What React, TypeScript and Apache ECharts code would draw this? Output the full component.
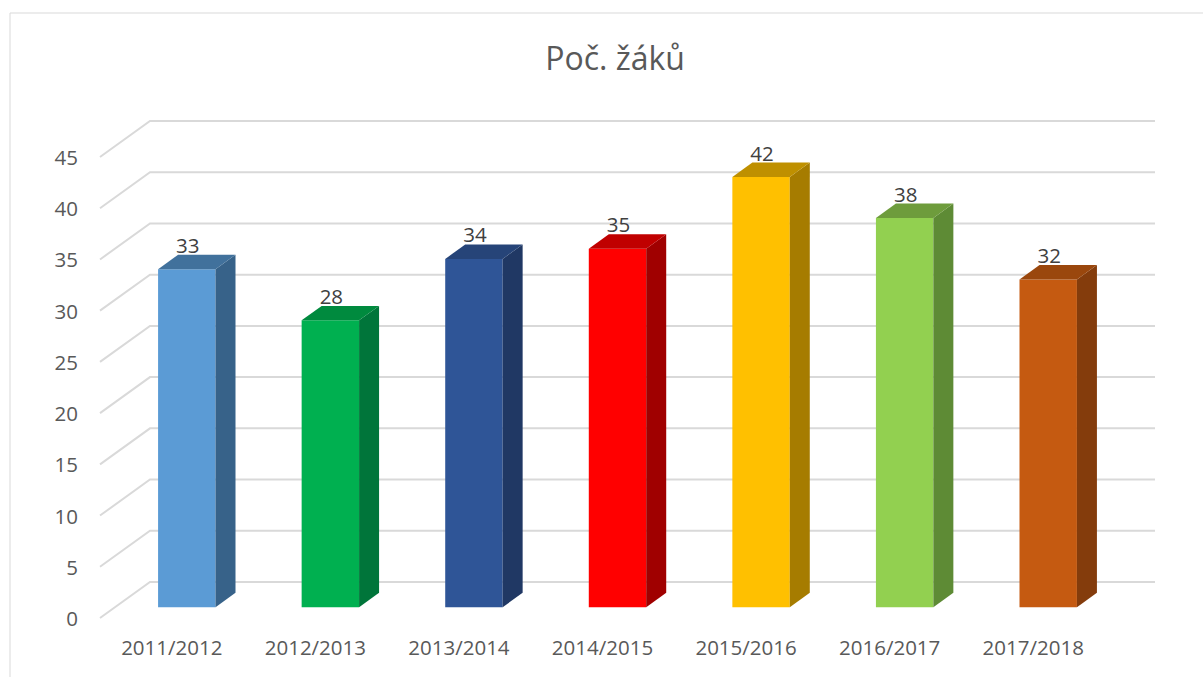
import React, { useEffect, useRef } from "react";
import * as echarts from "echarts";

const titleText = "Poč. žáků";
const categories = ["2011/2012", "2012/2013", "2013/2014", "2014/2015", "2015/2016", "2016/2017", "2017/2018"];
const values = [33, 28, 34, 35, 42, 38, 32];
const yTicks = [0, 5, 10, 15, 20, 25, 30, 35, 40, 45];
const frontColors = ["#5B9BD5", "#00B050", "#2F5597", "#FF0000", "#FFC000", "#92D050", "#C55A11"];
const topColors = ["#41719C", "#008A3E", "#264478", "#C00000", "#BF9000", "#6E9C3C", "#9A470D"];
const sideColors = ["#376289", "#00753A", "#203864", "#A00000", "#A67C00", "#5E8B35", "#843C0C"];

const DEPTH_X = 50;
const DEPTH_Y = 36;
const D1 = 0.3;
const D2 = 0.7;
const FONT = "'Open Sans', sans-serif";
const TEXT = "#595959";

export default function App() {
  const ref = useRef<HTMLDivElement>(null);
  useEffect(() => {
    if (!ref.current) return;
    const chart = echarts.init(ref.current, undefined, { renderer: "svg" });
    const option: any = {
      animation: false,
      backgroundColor: "#ffffff",
      title: {
        text: titleText,
        left: 610,
        top: 36,
        textAlign: "center",
        textStyle: { fontFamily: FONT, fontSize: 32, fontWeight: "normal", color: TEXT },
      },
      graphic: [
        {
          type: "rect",
          shape: { x: 10, y: 13, width: 1210, height: 700 },
          style: { fill: "none", stroke: "#d9d9d9", lineWidth: 1 },
          silent: true,
        },
      ],
      grid: { left: 100, right: 98, top: 157, bottom: 59 },
      xAxis: {
        type: "category",
        data: categories,
        axisLine: { show: false },
        axisTick: { show: false },
        splitLine: { show: false },
        axisLabel: { fontFamily: FONT, fontSize: 20.5, color: TEXT, margin: 18 },
      },
      yAxis: {
        type: "value",
        min: 0,
        max: 45,
        interval: 5,
        axisLine: { show: false },
        axisTick: { show: false },
        splitLine: { show: false },
        axisLabel: { fontFamily: FONT, fontSize: 20.5, color: TEXT, margin: 22 },
      },
      series: [
        {
          type: "custom",
          z: 1,
          silent: true,
          data: yTicks.map((t) => [0, t]),
          renderItem: (params: any, api: any) => {
            const cs = params.coordSys;
            const y = api.coord([0, api.value(1)])[1];
            return {
              type: "polyline",
              shape: {
                points: [
                  [cs.x, y],
                  [cs.x + DEPTH_X, y - DEPTH_Y],
                  [cs.x + cs.width + DEPTH_X, y - DEPTH_Y],
                ],
              },
              style: { stroke: "#d9d9d9", lineWidth: 2, fill: "none" },
            };
          },
        },
        {
          type: "custom",
          z: 2,
          data: values.map((v, i) => [i, v]),
          renderItem: (params: any, api: any) => {
            const i = api.value(0);
            const v = api.value(1);
            const p0 = api.coord([i, 0]);
            const p1 = api.coord([i, v]);
            const bw = api.size([1, 0])[0] * 0.4;
            const xl = p0[0] - bw / 2;
            const xr = p0[0] + bw / 2;
            const fx = D1 * DEPTH_X, fy = D1 * DEPTH_Y;
            const bx = D2 * DEPTH_X, by = D2 * DEPTH_Y;
            const yb = p0[1], yt = p1[1];
            const idx = params.dataIndex;
            return {
              type: "group",
              children: [
                {
                  type: "polygon",
                  shape: { points: [[xl + fx, yb - fy], [xr + fx, yb - fy], [xr + fx, yt - fy], [xl + fx, yt - fy]] },
                  style: { fill: frontColors[idx] },
                },
                {
                  type: "polygon",
                  shape: { points: [[xr + fx, yb - fy], [xr + bx, yb - by], [xr + bx, yt - by], [xr + fx, yt - fy]] },
                  style: { fill: sideColors[idx] },
                },
                {
                  type: "polygon",
                  shape: { points: [[xl + fx, yt - fy], [xr + fx, yt - fy], [xr + bx, yt - by], [xl + bx, yt - by]] },
                  style: { fill: topColors[idx] },
                },
                {
                  type: "text",
                  style: {
                    text: String(v),
                    x: p0[0] + fx + 1,
                    y: yt - by - 10,
                    align: "center",
                    verticalAlign: "middle",
                    fontFamily: FONT,
                    fontSize: 20.5,
                    fill: "#404040",
                  },
                },
              ],
            };
          },
        },
      ],
    };
    chart.setOption(option);
    return () => chart.dispose();
  }, []);
  return <div ref={ref} style={{ position: "fixed", left: 0, top: 0, width: 1203, height: 677 }} />;
}
